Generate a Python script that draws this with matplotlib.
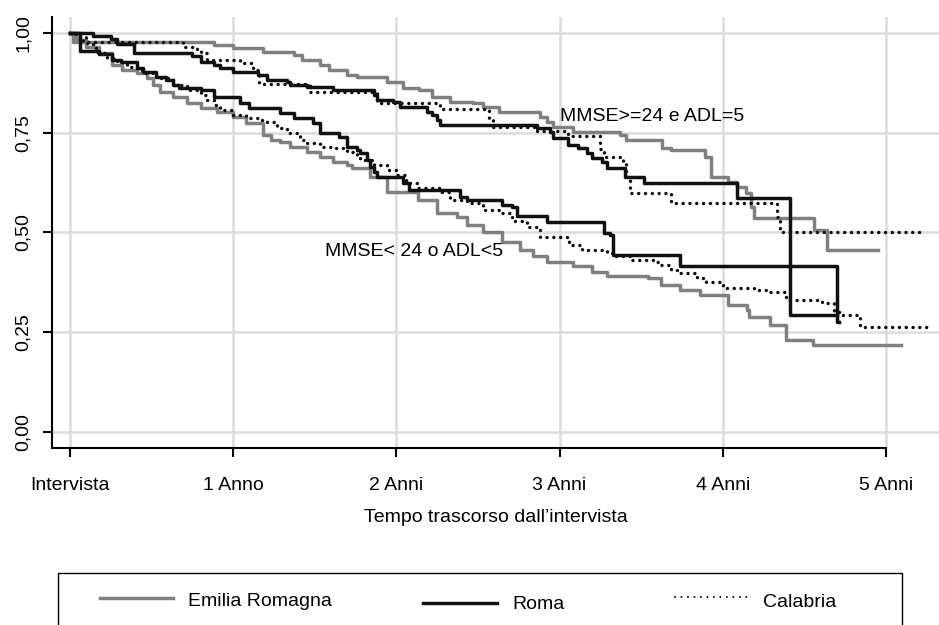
import matplotlib
matplotlib.use("Agg")
import matplotlib.pyplot as plt
from matplotlib.lines import Line2D
from matplotlib.patches import Rectangle

plt.rcParams['font.family'] = ['Liberation Sans', 'DejaVu Sans']

# Kaplan-Meier curves: time (years since interview) and survival after each step
# MMSE>=24 e ADL=5
er_hi_t = [0, 0.02, 0.88, 1.00, 1.18, 1.37, 1.42, 1.53, 1.59, 1.70, 1.76, 1.94, 2.04, 2.14, 2.22,
           2.33, 2.47, 2.53, 2.63, 2.88, 2.92, 2.96, 3.08, 3.37, 3.41, 3.63, 3.68, 3.89, 3.93, 4.03,
           4.09, 4.14, 4.17, 4.19, 4.56, 4.64, 4.95]
er_hi_s = [1.0, 0.978, 0.97, 0.963, 0.953, 0.945, 0.933, 0.92, 0.908, 0.895, 0.89, 0.878, 0.862, 0.857,
           0.84, 0.827, 0.825, 0.815, 0.802, 0.79, 0.777, 0.765, 0.752, 0.745, 0.732, 0.712, 0.707, 0.69,
           0.64, 0.627, 0.614, 0.60, 0.564, 0.536, 0.506, 0.455, 0.455]

roma_hi_t = [0, 0.14, 0.25, 0.29, 0.39, 0.75, 0.80, 0.88, 0.92, 1.00, 1.15, 1.21, 1.33, 1.35, 1.45,
             1.61, 1.86, 1.88, 1.98, 2.02, 2.19, 2.22, 2.25, 2.27, 2.86, 2.94, 2.96, 3.05, 3.11, 3.17,
             3.20, 3.26, 3.29, 3.40, 3.52, 4.09, 4.41, 4.70]
roma_hi_s = [1.0, 0.993, 0.985, 0.973, 0.95, 0.943, 0.928, 0.92, 0.913, 0.903, 0.895, 0.883, 0.878, 0.87,
             0.865, 0.857, 0.845, 0.832, 0.828, 0.815, 0.802, 0.795, 0.782, 0.77, 0.762, 0.752, 0.737,
             0.72, 0.712, 0.70, 0.687, 0.677, 0.662, 0.64, 0.625, 0.587, 0.293, 0.293]

cal_hi_t = [0, 0.06, 0.10, 0.69, 0.78, 0.80, 0.84, 1.04, 1.12, 1.15, 1.16, 1.47, 1.88, 2.27, 2.57,
            2.59, 2.86, 3.05, 3.25, 3.27, 3.39, 3.41, 3.43, 3.68, 4.33, 4.35, 5.21]
cal_hi_s = [1.0, 0.99, 0.978, 0.965, 0.958, 0.95, 0.933, 0.925, 0.908, 0.90, 0.872, 0.852, 0.825, 0.81,
            0.787, 0.765, 0.755, 0.742, 0.71, 0.69, 0.675, 0.64, 0.60, 0.573, 0.54, 0.50, 0.50]

# MMSE< 24 o ADL<5
er_lo_t = [0, 0.04, 0.10, 0.18, 0.26, 0.32, 0.41, 0.47, 0.51, 0.55, 0.63, 0.72, 0.80, 0.90, 1.00,
           1.08, 1.18, 1.23, 1.29, 1.35, 1.45, 1.53, 1.61, 1.70, 1.73, 1.84, 1.94, 2.13, 2.25, 2.37,
           2.43, 2.53, 2.65, 2.76, 2.84, 2.92, 3.08, 3.20, 3.29, 3.54, 3.62, 3.74, 3.86, 4.03, 4.15,
           4.16, 4.29, 4.39, 4.55, 5.09]
er_lo_s = [1.0, 0.983, 0.965, 0.95, 0.92, 0.908, 0.90, 0.887, 0.87, 0.852, 0.84, 0.825, 0.812, 0.803,
           0.79, 0.775, 0.745, 0.732, 0.727, 0.715, 0.702, 0.69, 0.677, 0.67, 0.662, 0.64, 0.602, 0.582,
           0.55, 0.54, 0.52, 0.50, 0.475, 0.457, 0.44, 0.427, 0.415, 0.40, 0.39, 0.385, 0.368, 0.355,
           0.343, 0.318, 0.305, 0.288, 0.268, 0.23, 0.217, 0.217]

roma_lo_t = [0, 0.06, 0.18, 0.26, 0.31, 0.41, 0.45, 0.53, 0.59, 0.63, 0.67, 0.80, 0.88, 1.04, 1.10,
             1.29, 1.37, 1.49, 1.53, 1.65, 1.70, 1.76, 1.78, 1.82, 1.84, 1.86, 1.88, 2.04, 2.08, 2.39,
             2.43, 2.65, 2.71, 2.74, 2.92, 3.27, 3.31, 3.33, 3.74, 4.70, 4.71]
roma_lo_s = [1.0, 0.955, 0.948, 0.933, 0.928, 0.912, 0.903, 0.89, 0.883, 0.87, 0.862, 0.857, 0.84, 0.825,
             0.812, 0.80, 0.787, 0.775, 0.75, 0.74, 0.715, 0.707, 0.70, 0.682, 0.665, 0.652, 0.64, 0.625,
             0.607, 0.59, 0.582, 0.57, 0.565, 0.542, 0.527, 0.498, 0.493, 0.443, 0.415, 0.275, 0.275]

cal_lo_t = [0, 0.04, 0.08, 0.14, 0.17, 0.23, 0.29, 0.35, 0.41, 0.45, 0.53, 0.63, 0.72, 0.80, 0.84,
            0.88, 0.92, 1.00, 1.08, 1.16, 1.21, 1.27, 1.33, 1.41, 1.45, 1.53, 1.61, 1.70, 1.76, 1.78,
            1.86, 1.94, 2.00, 2.06, 2.13, 2.27, 2.33, 2.43, 2.53, 2.63, 2.71, 2.80, 2.88, 3.06, 3.14,
            3.29, 3.33, 3.43, 3.57, 3.62, 3.68, 3.74, 3.84, 3.90, 4.00, 4.19, 4.27, 4.39, 4.61, 4.68,
            4.72, 4.83, 4.84, 5.28]
cal_lo_s = [1.0, 0.99, 0.975, 0.963, 0.95, 0.937, 0.928, 0.915, 0.908, 0.90, 0.887, 0.87, 0.857, 0.845,
            0.832, 0.82, 0.807, 0.795, 0.787, 0.782, 0.777, 0.762, 0.75, 0.732, 0.725, 0.715, 0.712,
            0.702, 0.695, 0.682, 0.67, 0.657, 0.645, 0.625, 0.612, 0.602, 0.582, 0.573, 0.556, 0.548,
            0.53, 0.513, 0.489, 0.468, 0.457, 0.448, 0.44, 0.43, 0.427, 0.418, 0.405, 0.398, 0.385,
            0.375, 0.36, 0.355, 0.35, 0.33, 0.322, 0.30, 0.293, 0.285, 0.263, 0.263]

x_ticks = [0, 1, 2, 3, 4, 5]
x_labels = ['Intervista', '1 Anno', '2 Anni', '3 Anni', '4 Anni', '5 Anni']
y_ticks = [0, 0.25, 0.5, 0.75, 1.0]
y_labels = ['0,00', '0,25', '0,50', '0,75', '1,00']
regions = ['Emilia Romagna', 'Roma', 'Calabria']

styles = {
    'Emilia Romagna': dict(color='#808080', lw=2.5),
    'Roma': dict(color='#111111', lw=2.5),
    'Calabria': dict(color='#111111', lw=2.5, linestyle=(0, (0.01, 1.95)), dash_capstyle='round'),
}
curves = {
    'Emilia Romagna': [(er_hi_t, er_hi_s), (er_lo_t, er_lo_s)],
    'Roma': [(roma_hi_t, roma_hi_s), (roma_lo_t, roma_lo_s)],
    'Calabria': [(cal_hi_t, cal_hi_s), (cal_lo_t, cal_lo_s)],
}

fig = plt.figure(figsize=(9.39, 6.25), dpi=100)
ax = fig.add_axes([52 / 939, 1 - 448 / 625, 887 / 939, 431 / 625])

for reg in regions:
    for t, s in curves[reg]:
        ax.step(t, s, where='post', **styles[reg])

ax.set_xlim(-0.11, 5.325)
ax.set_ylim(-0.041, 1.041)
ax.set_xticks(x_ticks)
ax.set_xticklabels(x_labels)
ax.set_yticks(y_ticks)
ax.set_yticklabels(y_labels, rotation=90, va='center')
ax.grid(True, color='#dcdcdc', lw=1.8)
ax.set_axisbelow(True)

for side in ['top', 'right']:
    ax.spines[side].set_visible(False)
for side in ['left', 'bottom']:
    ax.spines[side].set_linewidth(1.5)
ax.spines['bottom'].set_bounds(-0.11, 5.0)
ax.tick_params(axis='x', length=6.5, width=1.5, pad=14.5, labelsize=14)
ax.tick_params(axis='y', length=6.5, width=1.5, pad=8, labelsize=14)
ax.set_xlabel('Tempo trascorso dall\u2019intervista', fontsize=14, labelpad=11)

ax.text(3.0, 0.780, 'MMSE>=24 e ADL=5', fontsize=14, ha='left', va='baseline')
ax.text(1.56, 0.441, 'MMSE< 24 o ADL<5', fontsize=14, ha='left', va='baseline')

# legend box at the bottom, cut by the figure edge as in the original
fig.patches.append(Rectangle((58 / 939, 1 - 660 / 625), 844 / 939, 87 / 625,
                             transform=fig.transFigure, fill=False, ec='black', lw=1.0))
leg_pos = {
    'Emilia Romagna': (100, 173, 598, 188, 606),
    'Roma': (423, 497, 603, 512, 609),
    'Calabria': (675, 752, 597, 763, 607),
}
for reg in regions:
    x0, x1, yl, xt, yt = leg_pos[reg]
    st = dict(styles[reg])
    if reg == 'Calabria':
        st['lw'] = 1.5
        st['linestyle'] = (0, (0.01, 3.1))
    fig.lines.append(Line2D([x0 / 939, x1 / 939], [1 - yl / 625, 1 - yl / 625],
                            transform=fig.transFigure, **st))
    fig.text(xt / 939, 1 - yt / 625, reg, fontsize=14, ha='left', va='baseline')

fig.savefig('out.png', dpi=100)
